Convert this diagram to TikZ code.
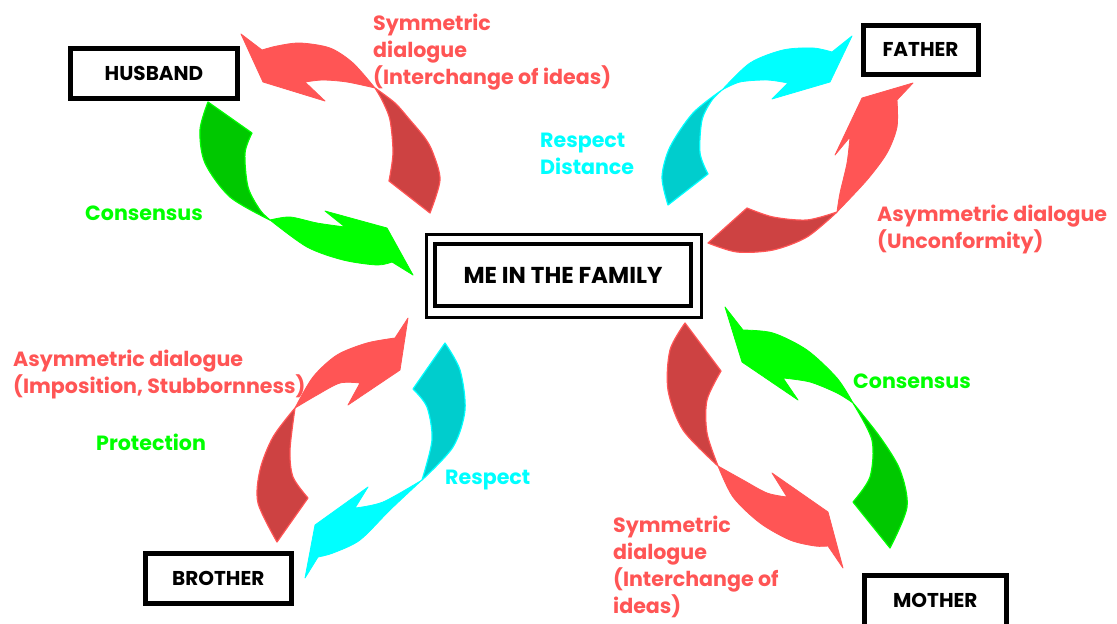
\documentclass[tikz,border=0pt]{standalone}
\usepackage{fontspec}
\setmainfont{Poppins}
\definecolor{rl}{RGB}{255,85,85}
\definecolor{rd}{RGB}{205,66,66}
\definecolor{gl}{RGB}{0,255,0}
\definecolor{gd}{RGB}{0,200,0}
\definecolor{cl}{RGB}{0,255,255}
\definecolor{cd}{RGB}{0,205,205}
\begin{document}
\begin{tikzpicture}[x=1pt,y=-1pt,
  front/.style={fill=#1,draw=#1,line width=0.8pt,line join=round},
  back/.style 2 args={fill=#1,draw=#2,line width=1.2pt,line join=round},
  member/.style={draw=black,line width=5pt,minimum width=#1,minimum height=50pt,
    inner sep=0pt,font=\fontsize{20}{24}\selectfont\bfseries},
  lbl/.style={text=#1,anchor=base west,align=left,inner sep=0pt,
    font=\fontsize{20.6}{27}\selectfont\bfseries}]
\useasboundingbox (0,0) rectangle (1117,624);
\clip (0,0) rectangle (1117,624);
\fill[white] (0,0) rectangle (1117,624);

% ---------- husband: symmetric dialogue (red) ----------
\path[back={rd}{rl}] plot[smooth] coordinates {(375,88) (395,103) (410,120) (425,138) (433,153) (440,180) (430,213)}
  -- (389,181) -- plot[smooth] coordinates {(389,181) (393,153) (390,120) (382,100) (375,88)} -- cycle;
\path[front=rl] plot[smooth] coordinates {(375,88) (353,63) (330,48) (300,43) (277,46) (262,50)}
  -- (241,34) -- (263,82) -- (325,101) -- plot[smooth] coordinates {(305,82) (323,80) (347,82) (375,88)} -- cycle;

% ---------- husband: consensus (green) ----------
\path[back={gd}{gl}] plot[smooth] coordinates {(208,102) (200,130) (205,163) (230,197) (270,220)}
  -- plot[smooth] coordinates {(270,220) (260,210) (248,187) (245,153) (252,133)} -- cycle;
\path[front=gl] plot[smooth] coordinates {(270,220) (307,247) (343,260) (377,265) (392,262)}
  -- (413,275) -- (387,228) -- (325,211) -- plot[smooth] coordinates {(345,227) (317,223) (290,217) (270,220)} -- cycle;

% ---------- father: respect, distance (cyan) ----------
\path[back={cd}{cl}] plot[smooth] coordinates {(722,90) (693,113) (670,147) (662,177) (668,205)}
  -- (708,174) -- plot[smooth] coordinates {(708,174) (700,153) (702,120) (712,100) (722,90)} -- cycle;
\path[front=cl] plot[smooth] coordinates {(722,90) (750,63) (783,50) (813,48) (832,52)}
  -- (852,36) -- (830,82) -- (772,99) -- plot[smooth] coordinates {(788,83) (767,80) (740,82) (722,90)} -- cycle;

% ---------- father: asymmetric dialogue (red) ----------
\path[back={rd}{rl}] plot[smooth] coordinates {(837,212) (807,237) (773,250) (737,252) (708,243)}
  -- (747,208) -- plot[smooth] coordinates {(747,208) (773,217) (807,220) (837,212)} -- cycle;
\path[front=rl] plot[smooth] coordinates {(837,212) (867,180) (887,153) (897,127) (897,100)}
  -- (913,83) -- (862,98) -- (835,155) -- plot[smooth] coordinates {(850,137) (847,163) (840,193) (837,212)} -- cycle;

% ---------- brother: asymmetric dialogue (red) ----------
\path[back={rd}{rl}] plot[smooth] coordinates {(295,408) (273,437) (260,470) (258,503) (277,542)}
  -- (308,498) -- plot[smooth] coordinates {(308,498) (293,477) (290,450) (295,408)} -- cycle;
\path[front=rl] plot[smooth] coordinates {(295,408) (313,377) (337,355) (367,343) (395,338)}
  -- (408,318) -- (400,370) -- (348,405) -- plot[smooth] coordinates {(360,383) (340,383) (317,395) (295,408)} -- cycle;

% ---------- brother: respect (cyan) ----------
\path[back={cd}{cl}] plot[smooth] coordinates {(445,343) (460,370) (465,410) (453,447) (422,480)}
  -- plot[smooth] coordinates {(422,480) (432,440) (427,407) (413,389)} -- cycle;
\path[front=cl] plot[smooth] coordinates {(422,480) (390,510) (360,540) (333,553) (318,557)}
  -- (305,578) -- (315,525) -- (368,487) -- plot[smooth] coordinates {(355,508) (383,502) (422,480)} -- cycle;

% ---------- mother: consensus (green) ----------
\path[back={gd}{gl}] plot[smooth] coordinates {(853,403) (880,437) (900,470) (907,507) (890,548)}
  -- (853,502) -- plot[smooth] coordinates {(853,502) (870,477) (872,440) (853,403)} -- cycle;
\path[front=gl] plot[smooth] coordinates {(853,403) (837,378) (807,350) (773,333) (743,330)}
  -- (725,307) -- (742,362) -- (798,400) -- plot[smooth] coordinates {(783,378) (810,382) (837,393) (853,403)} -- cycle;

% ---------- mother: symmetric dialogue (red) ----------
\path[back={rd}{rl}] plot[smooth] coordinates {(685,323) (670,350) (668,390) (683,430) (718,466)}
  -- plot[smooth] coordinates {(718,466) (707,433) (707,400) (721,371)} -- cycle;
\path[front=rl] plot[smooth] coordinates {(718,466) (733,497) (760,523) (790,540) (815,546) (828,546)}
  -- (843,568) -- (828,512) -- (772,473) -- plot[smooth] coordinates {(787,497) (767,493) (743,480) (718,466)} -- cycle;

% ---------- family members ----------
\node[member=167pt] (husband) at (154,73.5) {HUSBAND};
\node[member=115pt,minimum height=49pt] (father) at (920.5,49.5) {FATHER};
\node[member=146.5pt] (brother) at (218.3,578) {BROTHER};
\node[member=142.5pt,minimum height=64.5pt] (mother) at (935.3,607.8) {};
\node[font=\fontsize{20}{24}\selectfont\bfseries] (mothertext) at (935.3,600.5) {MOTHER};

% ---------- centre ----------
\node[draw=black,line width=3.3pt,minimum width=274.8pt,minimum height=82.5pt] (meouter) at (564.1,276) {};
\node[draw=black,line width=4pt,minimum width=256pt,minimum height=62.5pt,
  font=\fontsize{23}{27}\selectfont\bfseries] (me) at (563,275.2) {ME IN THE FAMILY};

% ---------- labels (anchored at the baseline of their last line) ----------
\node[lbl=rl] (symtop) at (373,84) {Symmetric\\dialogue\\(Interchange of ideas)};
\node[lbl=cl] (respdist) at (540,174) {Respect\\Distance};
\node[lbl=gl] (conshus) at (85,220) {Consensus};
\node[lbl=rl] (asymfat) at (877,248) {Asymmetric dialogue\\(Unconformity)};
\node[lbl=rl] (asymbro) at (13,393) {Asymmetric dialogue\\(Imposition, Stubbornness)};
\node[lbl=gl] (protect) at (96,450) {Protection};
\node[lbl=cl] (respbro) at (445,484) {Respect};
\node[lbl=gl] (consmot) at (853,388) {Consensus};
\node[lbl=rl] (symmot) at (613,613) {Symmetric\\dialogue\\(Interchange of\\ideas)};
\end{tikzpicture}
\end{document}
